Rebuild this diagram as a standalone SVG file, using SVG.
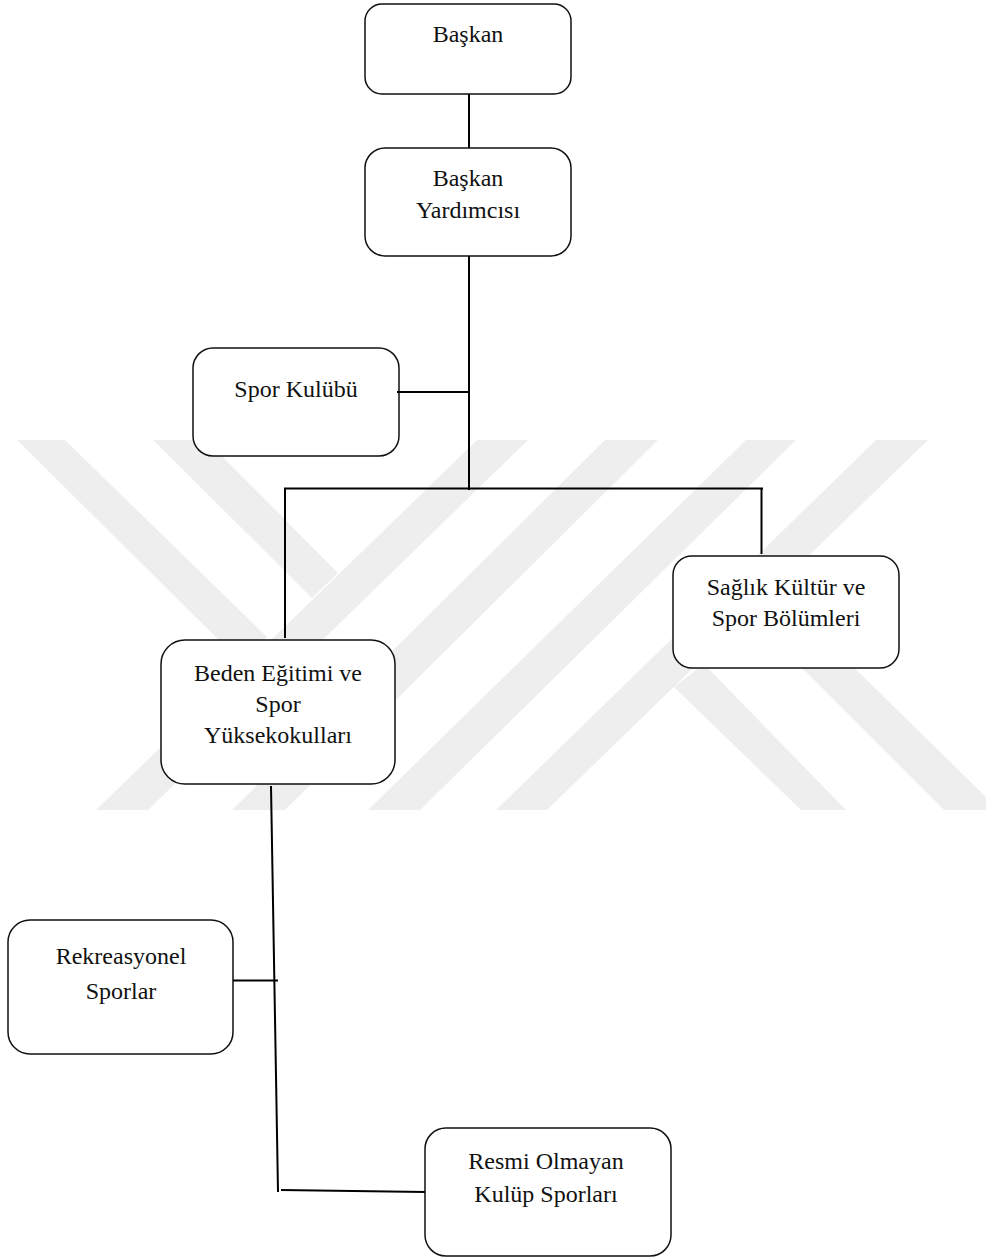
<svg xmlns="http://www.w3.org/2000/svg" width="986" height="1260" viewBox="0 0 986 1260">
<style>
.wm{fill:#eeeeee;stroke:none}
.box{fill:#ffffff;stroke:#111111;stroke-width:1.5}
.t{font-family:"Liberation Serif","Times New Roman",serif;font-size:24px;fill:#111111;text-anchor:middle}
.c{fill:none;stroke:#000000;stroke-width:2}
</style>
<rect width="986" height="1260" fill="#ffffff"/>
<g id="watermark">
<polygon class="wm" points="17,440 65,440 267,637 243,664"/>
<polygon class="wm" points="153,440 206,440 338,573 312,598"/>
<polygon class="wm" points="477,440 528,440 148,810 96,810"/>
<polygon class="wm" points="605,440 658,440 285,810 232,810"/>
<polygon class="wm" points="746,440 796,440 420,810 368,810"/>
<polygon class="wm" points="876,440 928,440 547,810 496,810"/>
<polygon class="wm" points="674,687 704,664 846,810 801,810"/>
<polygon class="wm" points="751,617 776,591 986,797 986,810 944,810"/>
</g>
<g id="baskan"><rect class="box" x="365" y="4" width="206" height="90" rx="17"/><text class="t" x="468" y="42">Başkan</text></g>
<g id="baskan-yardimcisi"><rect class="box" x="365" y="148" width="206" height="108" rx="20"/><text class="t" x="468" y="186">Başkan</text><text class="t" x="468" y="218">Yardımcısı</text></g>
<g id="spor-kulubu"><rect class="box" x="193" y="348" width="206" height="108" rx="20"/><text class="t" x="296" y="397">Spor Kulübü</text></g>
<g id="beden-egitimi"><rect class="box" x="161" y="640" width="234" height="144" rx="24"/><text class="t" x="278" y="681">Beden Eğitimi ve</text><text class="t" x="278" y="712">Spor</text><text class="t" x="278" y="743">Yüksekokulları</text></g>
<g id="saglik-kultur"><rect class="box" x="673" y="556" width="226" height="112" rx="19"/><text class="t" x="786" y="595">Sağlık Kültür ve</text><text class="t" x="786" y="626">Spor Bölümleri</text></g>
<g id="rekreasyonel"><rect class="box" x="8" y="920" width="225" height="134" rx="22"/><text class="t" x="121" y="964">Rekreasyonel</text><text class="t" x="121" y="999">Sporlar</text></g>
<g id="resmi-olmayan"><rect class="box" x="425" y="1128" width="246" height="128" rx="21"/><text class="t" x="546" y="1169">Resmi Olmayan</text><text class="t" x="546" y="1202">Kulüp Sporları</text></g>
<g id="connectors">
<line class="c" x1="469" y1="94" x2="469" y2="148"/>
<line class="c" x1="469" y1="256" x2="469" y2="490"/>
<line class="c" x1="397" y1="392" x2="469" y2="392"/>
<line class="c" x1="284" y1="488.500" x2="763" y2="488.500"/>
<line class="c" x1="285" y1="488" x2="285" y2="638"/>
<line class="c" x1="761.500" y1="488" x2="761.500" y2="554"/>
<line class="c" x1="271" y1="786" x2="278" y2="1192"/>
<line class="c" x1="233" y1="980.500" x2="278" y2="980.500"/>
<line class="c" x1="281" y1="1190" x2="425" y2="1192"/>
</g>
</svg>
